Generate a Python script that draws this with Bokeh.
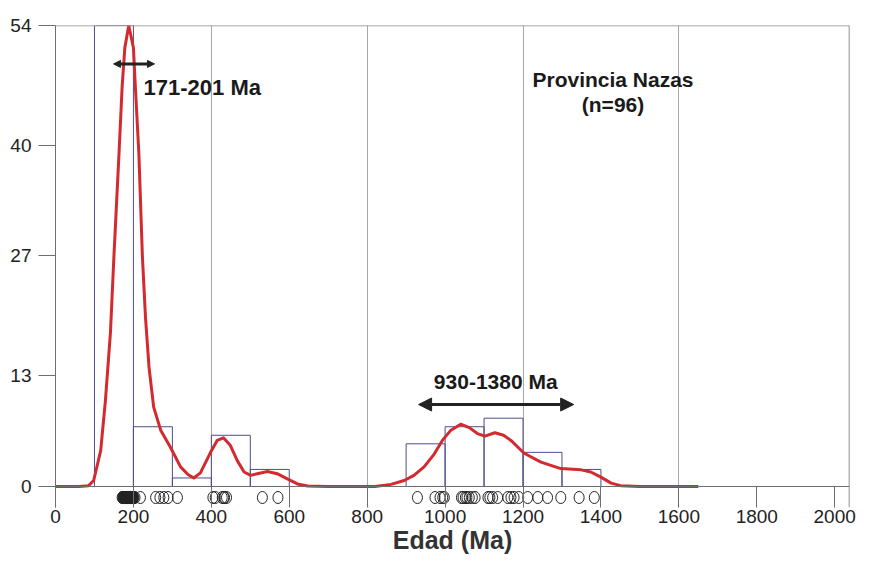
from bokeh.plotting import figure
from bokeh.models import Range1d, FixedTicker, Span, Arrow, NormalHead
from bokeh.core.properties import value
from bokeh.embed import file_html
from bokeh.resources import INLINE

# ---- data ----
kde_x = [0, 60, 85, 98, 116, 128, 141, 150, 163, 171, 178, 188, 200, 205, 214, 223, 231, 240, 252, 270,
         295, 321, 340, 355, 372, 398, 415, 431, 449, 467, 484, 501, 518, 544, 569, 595, 621, 647, 700, 820,
         861, 895, 920, 946, 972, 993, 1015, 1040, 1062, 1083, 1102, 1128, 1150, 1169, 1203, 1246, 1297, 1349,
         1374, 1400, 1426, 1451, 1500, 1650]
kde_y = [0, 0, 0.1, 0.7, 4.2, 10, 18, 27, 39, 46.8, 51.4, 54, 51.4, 46.8, 39, 27, 19.8, 14, 9.3, 6.6,
         4.6, 2.3, 1.4, 1.0, 1.6, 4.0, 5.4, 5.7, 4.8, 3.0, 1.7, 1.3, 1.5, 1.75, 1.5, 0.9, 0.3, 0.05, 0, 0,
         0.25, 0.7, 1.3, 2.3, 3.8, 5.4, 6.6, 7.3, 6.9, 6.2, 5.9, 6.3, 6.0, 5.4, 3.9, 2.85, 2.1, 1.95,
         1.7, 1.1, 0.4, 0.1, 0, 0]

bin_left = [100, 200, 300, 400, 500, 900, 1000, 1100, 1200, 1300]
bin_right = [200, 300, 400, 500, 600, 1000, 1100, 1200, 1300, 1400]
bin_count = [54, 7, 1, 6, 2, 5, 7, 8, 4, 2]

ages = [171, 173, 174, 175, 176, 177, 178, 179, 179, 180,
        181, 181, 182, 182, 183, 183, 184, 184, 185, 185,
        186, 186, 186, 187, 187, 188, 188, 188, 189, 189,
        190, 190, 190, 191, 191, 192, 192, 193, 193, 193,
        194, 194, 195, 195, 196, 196, 196, 197, 197, 198,
        198, 198, 199, 199,
        201, 204, 218, 257, 268, 278, 289, 313,
        404, 410, 428, 432, 434, 439, 531, 571,
        929, 974, 987, 994, 998,
        1042, 1046, 1052, 1056, 1062, 1070, 1077,
        1110, 1115, 1122, 1135, 1161, 1169, 1177, 1189,
        1212, 1238, 1263, 1297, 1344, 1383]

x_ticks = [0, 200, 400, 600, 800, 1000, 1200, 1400, 1600, 1800, 2000]
y_ticks = [0, 13, 27, 40, 54]
grid_x = [400, 800, 1200, 1600]

title_text = "Provincia Nazas"
n_text = "(n=96)"
peak1_text = "171-201 Ma"
peak1_bar = (149, 254)
peak2_text = "930-1380 Ma"
peak2_arrow = (932, 1330)

X_MAX = 2038
FONT = "'Liberation Sans', Arial, sans-serif"

p = figure(width=869, height=560, x_range=Range1d(0, X_MAX), y_range=Range1d(-2.46, 54),
           output_backend="svg", toolbar_location=None,
           min_border_left=55, min_border_right=20, min_border_top=25, min_border_bottom=53)
p.outline_line_color = None
p.background_fill_color = "white"
p.border_fill_color = "white"

# axes
p.xaxis.ticker = FixedTicker(ticks=x_ticks)
p.xaxis.axis_line_color = None
p.xaxis.major_tick_in = 21
p.xaxis.major_tick_out = 0
p.xaxis.minor_tick_line_color = None
p.xaxis.major_tick_line_color = "#6e6e6e"
p.xaxis.major_label_text_align = "left"
p.xaxis.major_label_standoff = 2
p.xaxis.major_label_text_font = FONT
p.xaxis.major_label_text_font_size = "19px"
p.xaxis.major_label_text_color = "#222222"
p.xaxis.axis_label = "Edad (Ma)"
p.xaxis.axis_label_text_font = FONT
p.xaxis.axis_label_text_font_style = "bold"
p.xaxis.axis_label_text_font_size = "25px"
p.xaxis.axis_label_text_color = "#333333"
p.xaxis.axis_label_standoff = 0

p.yaxis.ticker = FixedTicker(ticks=y_ticks)
p.yaxis.axis_line_color = "#6e6e6e"
p.yaxis.major_tick_in = 0
p.yaxis.major_tick_out = 17
p.yaxis.minor_tick_line_color = None
p.yaxis.major_tick_line_color = "#6e6e6e"
p.yaxis.major_label_standoff = 7
p.yaxis.major_label_text_font = FONT
p.yaxis.major_label_text_font_size = "19px"
p.yaxis.major_label_text_color = "#222222"

p.xgrid.ticker = FixedTicker(ticks=grid_x)
p.xgrid.grid_line_color = "#a8a8a8"
p.xgrid.grid_line_width = 1
p.ygrid.visible = False

# frame lines (top, right, baseline)
p.add_layout(Span(location=54, dimension="width", line_color="#8a8a8a", line_width=1.5))
p.add_layout(Span(location=X_MAX, dimension="height", line_color="#6e6e6e", line_width=1.5))
p.add_layout(Span(location=0, dimension="width", line_color="#6e6e6e", line_width=1))

# histogram
p.quad(left=bin_left, right=bin_right, bottom=0, top=bin_count,
       fill_color=None, line_color="#4d4d8a", line_width=1)

# probability curve
p.line(kde_x, kde_y, line_color="#d22a2e", line_width=3, line_join="round")

# individual ages
p.ellipse(x=ages, y=-1.29, width=10, height=12, width_units="screen", height_units="screen",
          fill_color=None, line_color="#222222", line_width=1)

# annotations
p.add_layout(Arrow(start=NormalHead(size=7, fill_color="#222222", line_color="#222222"),
                   end=NormalHead(size=7, fill_color="#222222", line_color="#222222"),
                   x_start=peak1_bar[0], x_end=peak1_bar[1], y_start=49.5, y_end=49.5,
                   line_color="#222222", line_width=3))
p.add_layout(Arrow(start=NormalHead(size=13, fill_color="#222222", line_color="#222222"),
                   end=NormalHead(size=13, fill_color="#222222", line_color="#222222"),
                   x_start=peak2_arrow[0], x_end=peak2_arrow[1], y_start=9.6, y_end=9.6,
                   line_color="#222222", line_width=3))

p.text(x=[226], y=[46.7], text=[peak1_text], text_font=value(FONT), text_font_style="bold",
       text_font_size="22px", text_align="left", text_baseline="middle", text_color="#1a1a1a")
p.text(x=[1130], y=[12.3], text=[peak2_text], text_font=value(FONT), text_font_style="bold",
       text_font_size="21px", text_align="center", text_baseline="middle", text_color="#1a1a1a")
p.text(x=[1431, 1431], y=[47.7, 44.8], text=[title_text, n_text], text_font=value(FONT),
       text_font_style="bold", text_font_size="21px", text_align="center", text_baseline="middle",
       text_color="#1a1a1a")

open("out.html", "w").write(file_html(p, INLINE))
